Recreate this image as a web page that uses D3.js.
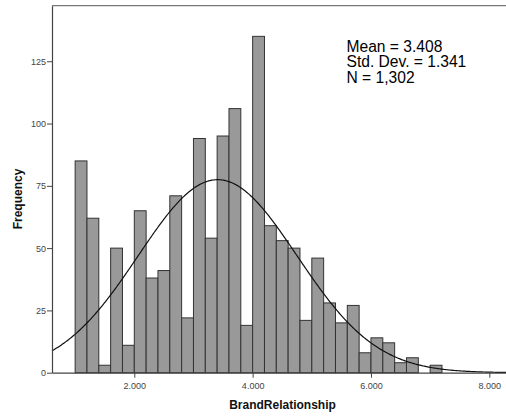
<!DOCTYPE html>
<html>
<head>
<meta charset="utf-8">
<script src="https://cdn.jsdelivr.net/npm/d3@7"></script>
<style>
  html, body { margin: 0; padding: 0; background: #fff; }
  svg { display: block; font-family: "Liberation Sans", Arial, sans-serif; }
</style>
</head>
<body>
<svg id="chart" width="506" height="417"></svg>
<script>
// Histogram of BrandRelationship scores, bins of width 0.2 starting at 1.0
const binStarts = [1.0, 1.2, 1.4, 1.6, 1.8, 2.0, 2.2, 2.4, 2.6, 2.8,
                   3.0, 3.2, 3.4, 3.6, 3.8, 4.0, 4.2, 4.4, 4.6, 4.8,
                   5.0, 5.2, 5.4, 5.6, 5.8, 6.0, 6.2, 6.4, 6.6, 6.8, 7.0];
const binWidth = 0.2;
const frequencies = [85, 62, 3, 50, 11, 65, 38, 41, 71, 22,
                     94, 54, 95, 106, 19, 135, 59, 53, 50, 21,
                     46, 28, 20, 27, 8, 14, 12, 4, 6, 0, 3];
const xTicks = [2, 4, 6, 8];
const yTicks = [0, 25, 50, 75, 100, 125];
const stats = { mean: 3.408, sd: 1.341, n: 1302 };
const statLines = ["Mean = 3.408", "Std. Dev. = 1.341", "N = 1,302"];

const svg = d3.select("#chart");
const plotLeft = 52, plotRight = 506, plotTop = 5.7, plotBottom = 372.7;

const x = d3.scaleLinear().domain([0.609, 8.282]).range([plotLeft, plotRight]);
const y = d3.scaleLinear().domain([0, 147.3]).range([plotBottom, plotTop]);

// bars
svg.append("g").selectAll("rect")
  .data(binStarts.map((s, i) => ({ s, f: frequencies[i] })).filter(d => d.f > 0))
  .join("rect")
  .attr("x", d => x(d.s))
  .attr("y", d => y(d.f))
  .attr("width", d => x(d.s + binWidth) - x(d.s))
  .attr("height", d => y(0) - y(d.f))
  .attr("fill", "#999999")
  .attr("stroke", "#333333")
  .attr("stroke-width", 1);

// normal curve scaled to counts
const scale = stats.n * binWidth / (stats.sd * Math.sqrt(2 * Math.PI));
const [x0, x1] = x.domain();
const curveXs = d3.range(0, 401).map(i => x0 + i * (x1 - x0) / 400);
const line = d3.line()
  .x(v => x(v))
  .y(v => y(scale * Math.exp(-0.5 * ((v - stats.mean) / stats.sd) ** 2)));
svg.append("path")
  .datum(curveXs)
  .attr("d", line)
  .attr("fill", "none")
  .attr("stroke", "#111")
  .attr("stroke-width", 1.2);

// frame: top edge
svg.append("line")
  .attr("x1", plotLeft).attr("x2", plotRight)
  .attr("y1", plotTop).attr("y2", plotTop)
  .attr("stroke", "#777").attr("stroke-width", 1.2);

// axes
const xAxis = d3.axisBottom(x).tickValues(xTicks).tickFormat(d3.format(".3f")).tickSize(5).tickSizeOuter(0);
const gx = svg.append("g").attr("transform", `translate(0,${plotBottom})`).call(xAxis);
gx.select(".domain").attr("stroke", "#444").attr("stroke-width", 1.2);
gx.selectAll(".tick line").attr("stroke", "#444");
gx.selectAll(".tick text").attr("fill", "#444").attr("font-size", 9)
  .attr("font-family", "Liberation Sans, Arial, sans-serif").attr("dy", "0.9em");

const yAxis = d3.axisLeft(y).tickValues(yTicks).tickSize(5).tickSizeOuter(0);
const gy = svg.append("g").attr("transform", `translate(${plotLeft},0)`).call(yAxis);
gy.select(".domain").attr("stroke", "#444").attr("stroke-width", 1.2);
gy.selectAll(".tick line").attr("stroke", "#444");
gy.selectAll(".tick text").attr("fill", "#444").attr("font-size", 9)
  .attr("font-family", "Liberation Sans, Arial, sans-serif").attr("x", -6);

// axis titles
svg.append("text")
  .attr("x", 282.5).attr("y", 408.5)
  .attr("text-anchor", "middle")
  .attr("font-size", 12).attr("font-weight", "bold").attr("fill", "#111")
  .text("BrandRelationship");

svg.append("text")
  .attr("transform", "translate(21.5,199) rotate(-90)")
  .attr("text-anchor", "middle")
  .attr("font-size", 12).attr("font-weight", "bold").attr("fill", "#111")
  .text("Frequency");

// summary statistics
svg.append("g").selectAll("text")
  .data(statLines)
  .join("text")
  .attr("x", 346.5)
  .attr("y", (d, i) => 51.9 + i * 15.5)
  .attr("font-size", 15.6)
  .attr("fill", "#000")
  .text(d => d);
</script>
</body>
</html>
